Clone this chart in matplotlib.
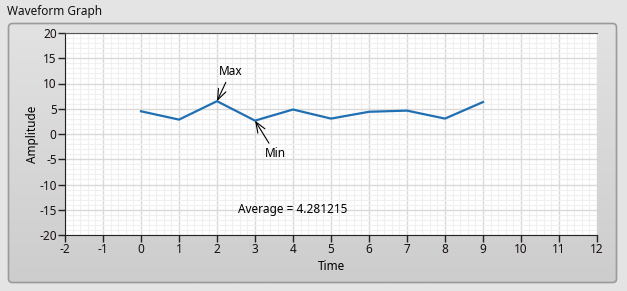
import numpy as np
import matplotlib
matplotlib.use("Agg")
import matplotlib.pyplot as plt
from matplotlib.patches import FancyBboxPatch
from matplotlib.ticker import MultipleLocator

plt.rcParams["font.family"] = ["Noto Sans", "DejaVu Sans"]
plt.rcParams["axes.unicode_minus"] = False

# waveform samples (dt = 1)
time = [0, 1, 2, 3, 4, 5, 6, 7, 8, 9]
amplitude = [4.50, 2.85, 6.50, 2.65, 4.85, 3.05, 4.40, 4.63, 3.05, 6.33]
avg_text = "Average = 4.281215"
x_ticks = list(range(-2, 13))
y_ticks = [-20, -15, -10, -5, 0, 5, 10, 15, 20]

W, H = 627, 291
fig = plt.figure(figsize=(W / 100, H / 100), dpi=100)
fig.patch.set_facecolor("#e4e4e4")

# grey LabVIEW-ish panel behind the plot
bg = fig.add_axes([0, 0, 1, 1])
bg.set_xlim(0, W); bg.set_ylim(H, 0); bg.axis("off")
grad = np.linspace(0, 1, 100).reshape(-1, 1)
bg.imshow(grad, cmap=matplotlib.colors.LinearSegmentedColormap.from_list(
    "p", ["#e2e2e2", "#cdcdcd"]), extent=[8.5, 616.5, 282.5, 23.5], aspect="auto", zorder=1)
bg.add_patch(FancyBboxPatch((8.5, 23.5), 608, 259, boxstyle="round,pad=0,rounding_size=4",
                            fc="none", ec="#9a9a9a", lw=1.2, zorder=2))
bg.text(7, 11, "Waveform Graph", fontsize=8.5, va="center", ha="left", color="#111111")

ax = fig.add_axes([65 / W, 1 - 235 / H, 532 / W, 202 / H])
ax.set_facecolor("white")
ax.set_xlim(-2, 12)
ax.set_ylim(-20, 20)
ax.set_xticks(x_ticks)
ax.set_yticks(y_ticks)
ax.xaxis.set_minor_locator(MultipleLocator(0.2))
ax.yaxis.set_minor_locator(MultipleLocator(1))
ax.grid(which="minor", color="#f0f0f0", lw=0.8)
ax.grid(which="major", color="#d9d9d9", lw=1.0)
ax.set_axisbelow(True)
ax.tick_params(which="minor", length=0)
ax.tick_params(which="major", length=5, width=1, color="#222222", labelsize=8.5,
               labelcolor="#1a1010", pad=1)
for s in ["left", "bottom"]:
    ax.spines[s].set_color("#222222")
ax.spines["top"].set_color("#555555")
ax.spines["right"].set_visible(False)

ax.plot(time, amplitude, color="#1f6fb2", lw=1.6)

i_max = int(np.argmax(amplitude))
i_min = int(np.argmin(amplitude))
arrow = dict(arrowstyle="->,head_length=0.9,head_width=0.35", color="black", lw=0.8,
             shrinkA=1, shrinkB=0)
ax.annotate("Max", (time[i_max], amplitude[i_max]), xytext=(time[i_max] + 0.05, 12.3),
            fontsize=8.5, ha="left", va="center", arrowprops=arrow)
ax.annotate("Min", (time[i_min], amplitude[i_min]), xytext=(time[i_min] + 0.26, -3.9),
            fontsize=8.5, ha="left", va="center", arrowprops=arrow)
ax.text(4.0, -15, avg_text, fontsize=8.5, ha="center", va="center")

ax.set_xlabel("Time", fontsize=8.5, labelpad=3)
ax.set_ylabel("Amplitude", fontsize=8.5, labelpad=0)

fig.savefig("out.png", dpi=100)
